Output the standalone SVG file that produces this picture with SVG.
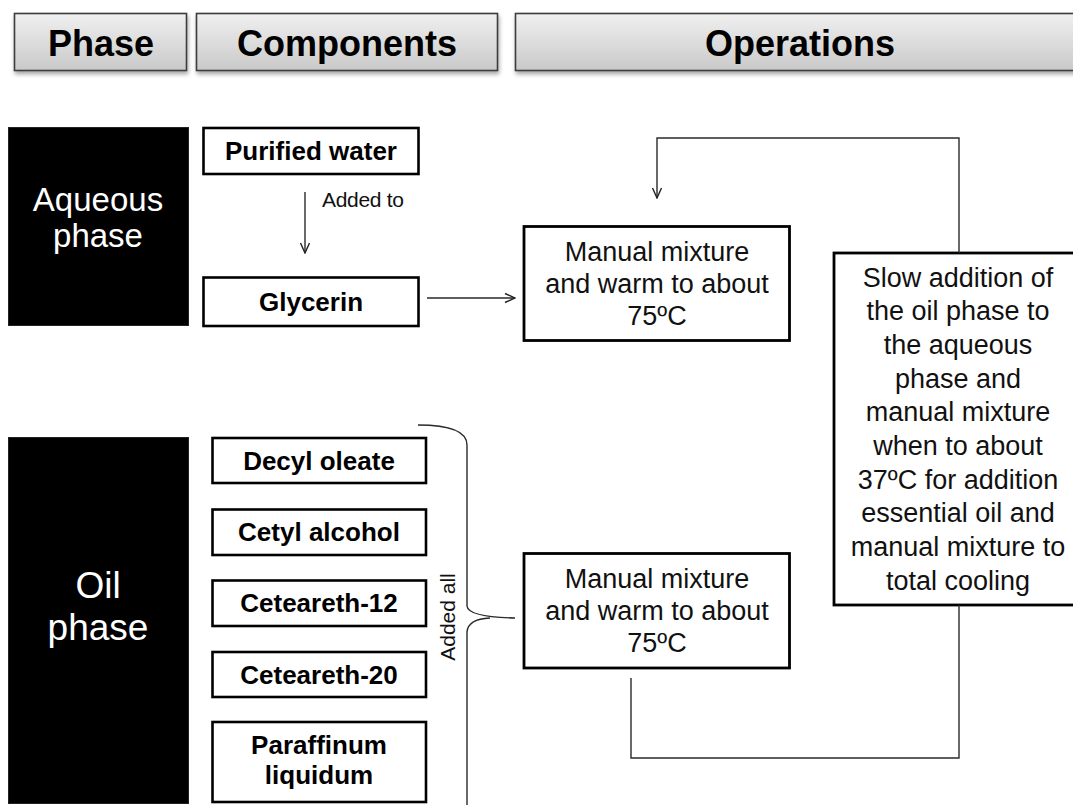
<svg xmlns="http://www.w3.org/2000/svg" width="1073" height="805" viewBox="0 0 1073 805">
<defs>
<linearGradient id="hdr" x1="0" y1="0" x2="0" y2="1">
<stop offset="0" stop-color="#f0f0f0"/>
<stop offset="1" stop-color="#c9c9c9"/>
</linearGradient>
<filter id="sh" x="-5%" y="-20%" width="110%" height="150%">
<feGaussianBlur in="SourceAlpha" stdDeviation="2"/>
<feOffset dx="1" dy="3" result="b"/>
<feComponentTransfer><feFuncA type="linear" slope="0.35"/></feComponentTransfer>
<feMerge><feMergeNode/><feMergeNode in="SourceGraphic"/></feMerge>
</filter>
<marker id="arr" viewBox="0 0 12 12" refX="11" refY="6" markerWidth="12" markerHeight="12" markerUnits="userSpaceOnUse" orient="auto">
<path d="M1,1.5 L11,6 L1,10.5" fill="none" stroke="#222" stroke-width="1.4"/>
</marker>
<style>
.hdr{fill:url(#hdr);stroke:#3c3c3c;stroke-width:1.6;filter:url(#sh)}
.htx{font-family:"Liberation Sans",Arial,sans-serif;font-weight:bold;font-size:36px;fill:#000;text-anchor:middle}
.ph{fill:#000;stroke:#222;stroke-width:1}
.phtx{font-family:"Liberation Sans",Arial,sans-serif;fill:#fff;text-anchor:middle}
.cb{fill:#fff;stroke:#000;stroke-width:2.6}
.ctx{font-family:"Liberation Sans",Arial,sans-serif;font-weight:bold;font-size:26px;fill:#000;text-anchor:middle}
.ob{fill:#fff;stroke:#000;stroke-width:2.8}
.otx{font-family:"Liberation Sans",Arial,sans-serif;font-size:27px;fill:#111;text-anchor:middle}
.lbl{font-family:"Liberation Sans",Arial,sans-serif;font-size:21px;fill:#111}
.con{fill:none;stroke:#2a2a2a;stroke-width:1.4}
</style>
</defs>
<rect width="1073" height="805" fill="#fff"/>

<g id="header-phase"><rect class="hdr" x="14.5" y="13.5" width="172" height="57"/><text class="htx" x="101" y="56">Phase</text></g>
<g id="header-components"><rect class="hdr" x="196.5" y="13.5" width="301" height="57"/><text class="htx" x="347" y="56">Components</text></g>
<g id="header-operations"><rect class="hdr" x="515.5" y="13.5" width="570" height="57"/><text class="htx" x="800" y="56">Operations</text></g>

<g id="aqueous-phase"><rect class="ph" x="8.5" y="127.5" width="180" height="198"/><text class="phtx" font-size="33" x="98" y="211">Aqueous</text><text class="phtx" font-size="33" x="98" y="247">phase</text></g>
<g id="oil-phase"><rect class="ph" x="8.5" y="437.5" width="180" height="366"/><text class="phtx" font-size="37" x="98" y="598">Oil</text><text class="phtx" font-size="37" x="98" y="640">phase</text></g>

<g id="purified-water"><rect class="cb" x="203.5" y="128" width="215" height="46"/><text class="ctx" x="311" y="160">Purified water</text></g>
<g id="glycerin"><rect class="cb" x="203.5" y="277.5" width="215" height="48.5"/><text class="ctx" x="311" y="311">Glycerin</text></g>

<g id="decyl-oleate"><rect class="cb" x="212.5" y="438" width="213.5" height="45"/><text class="ctx" x="319" y="470">Decyl oleate</text></g>
<g id="cetyl-alcohol"><rect class="cb" x="212.5" y="509.5" width="213.5" height="45.5"/><text class="ctx" x="319" y="541">Cetyl alcohol</text></g>
<g id="ceteareth-12"><rect class="cb" x="212.5" y="580.5" width="213.5" height="45.5"/><text class="ctx" x="319" y="612">Ceteareth-12</text></g>
<g id="ceteareth-20"><rect class="cb" x="212.5" y="652" width="213.5" height="45"/><text class="ctx" x="319" y="684">Ceteareth-20</text></g>
<g id="paraffinum-liquidum"><rect class="cb" x="212.5" y="722" width="213.5" height="80"/><text class="ctx" x="319" y="754">Paraffinum</text><text class="ctx" x="319" y="784">liquidum</text></g>

<g id="mix-aqueous"><rect class="ob" x="524" y="226.5" width="265.5" height="114"/><text class="otx" x="657" y="261">Manual mixture</text><text class="otx" x="657" y="293">and warm to about</text><text class="otx" x="657" y="325">75ºC</text></g>
<g id="mix-oil"><rect class="ob" x="524" y="553.5" width="265.5" height="114.5"/><text class="otx" x="657" y="588">Manual mixture</text><text class="otx" x="657" y="620">and warm to about</text><text class="otx" x="657" y="652">75ºC</text></g>
<g id="slow-addition"><rect class="ob" x="834" y="253" width="250" height="352" stroke-width="3"/>
<text class="otx" x="958"><tspan x="958" y="286.5">Slow addition of</tspan><tspan x="958" y="320.2">the oil phase to</tspan><tspan x="958" y="353.9">the aqueous</tspan><tspan x="958" y="387.6">phase and</tspan><tspan x="958" y="421.3">manual mixture</tspan><tspan x="958" y="455">when to about</tspan><tspan x="958" y="488.7">37ºC for addition</tspan><tspan x="958" y="522.4">essential oil and</tspan><tspan x="958" y="556.1">manual mixture to</tspan><tspan x="958" y="589.8">total cooling</tspan></text></g>

<g id="connectors">
<path class="con" d="M305,192 L305,253" marker-end="url(#arr)"/>
<text class="lbl" x="322" y="207" letter-spacing="-0.3">Added to</text>
<path class="con" d="M427,298 L515,298" marker-end="url(#arr)"/>
<path class="con" d="M959,253 L959,138 L657,138 L657,198" marker-end="url(#arr)"/>
<path class="con" d="M631,678 L631,758 L959,758 L959,605"/>
<path class="con" d="M418,425 Q467,425 467,445 L467,606 Q468,617 515,618"/>
<path class="con" d="M467,806 L467,632 Q468,619 490,618"/>
<text class="lbl" transform="translate(455,617) rotate(-90)" text-anchor="middle">Added all</text>
</g>
</svg>
